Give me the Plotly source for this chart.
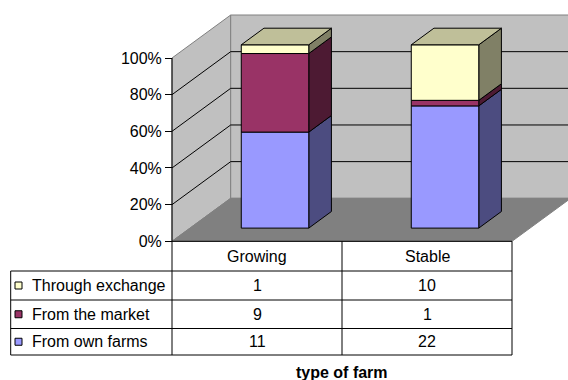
import plotly.graph_objects as go

# ---------------- data ----------------
categories = ["Growing", "Stable"]
series_names = ["From own farms", "From the market", "Through exchange"]
own_farms = [11, 22]
from_market = [9, 1]
through_exchange = [1, 10]
y_ticks = [0, 20, 40, 60, 80, 100]
y_tick_text = ["0%", "20%", "40%", "60%", "80%", "100%"]
axis_title = "type of farm"

series_values = [own_farms, from_market, through_exchange]

# ---------------- styles ----------------
front_colors = ["#9999FF", "#993366", "#FFFFCC"]
side_colors = ["#4C4C80", "#4D1A33", "#808066"]
top_colors = ["#7373BF", "#732650", "#BFBF99"]
WALL = "#C0C0C0"
FLOOR = "#808080"
EDGE = "#808080"
FONT = "Arial, Liberation Sans, sans-serif"

W, H = 568, 380
CAT0_PX, CAT_PX = 257.0, 170.0       # pixel of category 0 centre, pixels per category
ZERO_PX, FULL_PX = 241.3, 183.3      # pixel of 0%, pixels for 100%
DEPTH_X_PX, DEPTH_Y_PX = 58.7, 43.0  # 3-D depth offset in pixels

x_range = [(0 - CAT0_PX) / CAT_PX, (W - CAT0_PX) / CAT_PX]
y_range = [(ZERO_PX - H) / FULL_PX * 100, ZERO_PX / FULL_PX * 100]
DX = DEPTH_X_PX / CAT_PX
DY = DEPTH_Y_PX / FULL_PX * 100


def X(px):
    return (px - CAT0_PX) / CAT_PX


def Y(py):
    return (ZERO_PX - py) / FULL_PX * 100


def proj(x, y, d):
    return (x + d * DX, y + d * DY)


BAR_HALF = 0.1985
D0, D1 = 0.307, 0.693
X_LEFT, X_RIGHT = -0.5, len(categories) - 0.5

fig = go.Figure()


def poly(pts, fill, line, width=1):
    xs = [p[0] for p in pts] + [pts[0][0]]
    ys = [p[1] for p in pts] + [pts[0][1]]
    fig.add_trace(go.Scatter(x=xs, y=ys, mode="lines", fill="toself",
                             fillcolor=fill, line=dict(color=line, width=width),
                             hoverinfo="skip", showlegend=False))


def seg(pts, color, width=1):
    fig.add_trace(go.Scatter(x=[p[0] for p in pts], y=[p[1] for p in pts],
                             mode="lines", line=dict(color=color, width=width),
                             hoverinfo="skip", showlegend=False))


# walls and floor
poly([proj(X_LEFT, 0, 0), proj(X_LEFT, 100, 0), proj(X_LEFT, 100, 1), proj(X_LEFT, 0, 1)], WALL, EDGE)
poly([proj(X_LEFT, 0, 1), proj(X_LEFT, 100, 1), proj(X_RIGHT, 100, 1), proj(X_RIGHT, 0, 1)], WALL, EDGE)
poly([proj(X_LEFT, 0, 0), proj(X_RIGHT, 0, 0), proj(X_RIGHT, 0, 1), proj(X_LEFT, 0, 1)], FLOOR, EDGE)

# gridlines
for t in y_ticks[1:-1]:
    seg([proj(X_LEFT, t, 0), proj(X_LEFT, t, 1), proj(X_RIGHT, t, 1)], "#000000", 1)

# bars
for i, cat in enumerate(categories):
    total = sum(s[i] for s in series_values)
    cum = 0
    for k, s in enumerate(series_values):
        lo = cum / total * 100
        cum += s[i]
        hi = cum / total * 100
        xl, xr = i - BAR_HALF, i + BAR_HALF
        poly([proj(xr, lo, D0), proj(xr, hi, D0), proj(xr, hi, D1), proj(xr, lo, D1)],
             side_colors[k], "#000000")
        poly([proj(xl, lo, D0), proj(xr, lo, D0), proj(xr, hi, D0), proj(xl, hi, D0)],
             front_colors[k], "#000000")
        if k == len(series_values) - 1:
            poly([proj(xl, 100, D0), proj(xr, 100, D0), proj(xr, 100, D1), proj(xl, 100, D1)],
                 top_colors[k], "#000000")

# value axis line
seg([proj(X_LEFT, 0, 0), proj(X_LEFT, 100, 0)], "#000000", 1)

# ---------------- data table ----------------
TABLE_LEFT_PX = 10.7
ROW_PX = [ZERO_PX, 271.0, 300.0, 328.5, 355.0]
tx_left = X(TABLE_LEFT_PX)

shapes = []


def hline(x0, x1, y):
    shapes.append(dict(type="line", xref="x", yref="y", x0=x0, x1=x1, y0=y, y1=y,
                       line=dict(color="#000000", width=1)))


def vline(x, y0, y1):
    shapes.append(dict(type="line", xref="x", yref="y", x0=x, x1=x, y0=y0, y1=y1,
                       line=dict(color="#000000", width=1)))


hline(X_LEFT, X_RIGHT, Y(ROW_PX[0]))
for r in ROW_PX[1:]:
    hline(tx_left, X_RIGHT, Y(r))
vline(tx_left, Y(ROW_PX[1]), Y(ROW_PX[-1]))
for b in range(len(categories) + 1):
    vline(X_LEFT + b, Y(ROW_PX[0]), Y(ROW_PX[-1]))

annotations = []


def text(x, y, s, anchor="center", bold=False):
    annotations.append(dict(x=x, y=y, xref="x", yref="y", text=f"<b>{s}</b>" if bold else s,
                            showarrow=False, xanchor=anchor, yanchor="middle",
                            font=dict(family=FONT, size=16, color="#000000")))


for i, cat in enumerate(categories):
    text(i, Y((ROW_PX[0] + ROW_PX[1]) / 2), cat)

row_series = list(range(len(series_values)))[::-1]
for r, k in enumerate(row_series):
    yc = Y((ROW_PX[r + 1] + ROW_PX[r + 2]) / 2)
    # legend key
    shapes.append(dict(type="rect", xref="x", yref="y", x0=X(15), x1=X(22),
                       y0=yc - 3.5 / FULL_PX * 100, y1=yc + 3.5 / FULL_PX * 100,
                       fillcolor=front_colors[k], line=dict(color="#000000", width=1)))
    text(X(30), yc, series_names[k], anchor="left")
    for i in range(len(categories)):
        text(i, yc, str(series_values[k][i]))

text((X_LEFT + X_RIGHT) / 2, Y(372), axis_title, bold=True)

fig.update_layout(
    width=W, height=H, margin=dict(l=0, r=0, t=0, b=0),
    paper_bgcolor="white", plot_bgcolor="white",
    showlegend=False, shapes=shapes, annotations=annotations,
    xaxis=dict(range=x_range, visible=False, domain=[0, 1]),
    yaxis=dict(range=y_range, tickvals=y_ticks, ticktext=y_tick_text,
               ticks="outside", ticklen=7, tickcolor="#000000", tickwidth=1,
               showgrid=False, zeroline=False, showline=False,
               anchor="free", position=172 / W,
               tickfont=dict(family=FONT, size=16, color="#000000")),
)

fig.write_html("out.html")
